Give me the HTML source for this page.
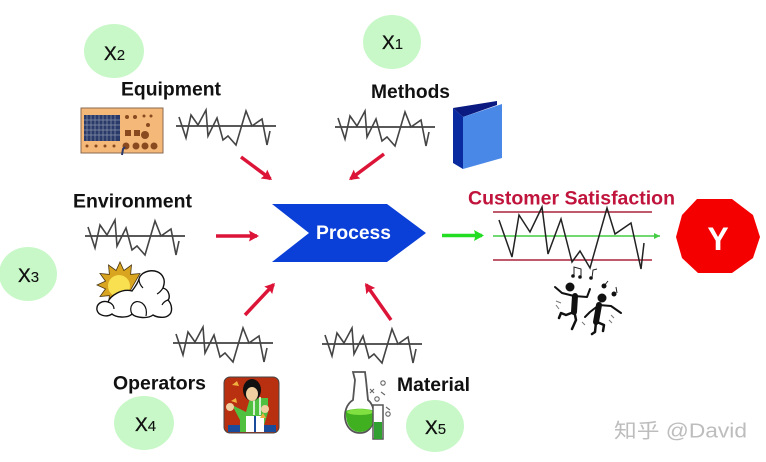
<!DOCTYPE html>
<html><head><meta charset="utf-8"><style>
html,body{margin:0;padding:0;background:#fff}
svg{display:block;filter:blur(.35px)}
text{font-family:"Liberation Sans","Noto Sans CJK SC",sans-serif}
.l{font-weight:bold;font-size:19px;fill:#111}
.x{font-size:19px;fill:#111;stroke:#111;stroke-width:.35}
.x tspan{font-size:15px;stroke-width:.1}
</style></head><body>
<svg width="766" height="462" viewBox="0 0 766 462" xmlns="http://www.w3.org/2000/svg">
<defs>
<g id="s"><path d="M0 0H100" stroke="#222" stroke-width="1.500" fill="none"/><path d="M3-9 10 12 15-11 22-1 30-16 32 10 41-8 47 14 52 10 60 19 70-15 76 0 86-7 91 19 94 5" stroke="#444" stroke-width="1.600" fill="none"/></g>
<marker id="r" markerUnits="userSpaceOnUse" markerWidth="12" markerHeight="12" refX="8" refY="5.500" orient="auto"><path d="M0 0 10 5.500 0 11 1.500 5.500z" fill="#dc1437"/></marker>
<marker id="g" markerUnits="userSpaceOnUse" markerWidth="12" markerHeight="12" refX="8" refY="5.500" orient="auto"><path d="M0 0 10 5.500 0 11 1.500 5.500z" fill="#22dd22"/></marker>
<marker id="g2" markerUnits="userSpaceOnUse" markerWidth="7" markerHeight="6" refX="6" refY="3" orient="auto"><path d="M0 0 6 3 0 6z" fill="#44cc44"/></marker>
</defs>

<!-- green circles -->
<g fill="#c8f8c8">
<ellipse cx="114" cy="51" rx="30" ry="27"/>
<ellipse cx="392" cy="42" rx="29" ry="27"/>
<ellipse cx="28" cy="274" rx="29" ry="27"/>
<ellipse cx="144" cy="423" rx="30" ry="27"/>
<ellipse cx="435" cy="426" rx="29" ry="26"/>
</g>
<text class="x" x="104" y="60">X<tspan>2</tspan></text>
<text class="x" x="382" y="49">X<tspan>1</tspan></text>
<text class="x" x="18" y="282">X<tspan>3</tspan></text>
<text class="x" x="135" y="431">X<tspan>4</tspan></text>
<text class="x" x="425" y="434">X<tspan>5</tspan></text>

<!-- labels -->
<text class="l" x="121" y="95.500" textLength="100" lengthAdjust="spacingAndGlyphs">Equipment</text>
<text class="l" x="371" y="98" textLength="79" lengthAdjust="spacingAndGlyphs">Methods</text>
<text class="l" x="73" y="207.500" textLength="119" lengthAdjust="spacingAndGlyphs">Environment</text>
<text class="l" x="113" y="389.500" textLength="93" lengthAdjust="spacingAndGlyphs">Operators</text>
<text class="l" x="397" y="391" textLength="73" lengthAdjust="spacingAndGlyphs">Material</text>
<text x="468" y="204.500" font-size="19" font-weight="bold" fill="#c0143c" textLength="207" lengthAdjust="spacingAndGlyphs">Customer Satisfaction</text>

<!-- sparklines -->
<use href="#s" x="176" y="126"/>
<use href="#s" x="335" y="127"/>
<use href="#s" x="85" y="236"/>
<use href="#s" x="173" y="343"/>
<use href="#s" x="322" y="344"/>

<!-- red arrows -->
<g stroke="#dc1437" stroke-width="3.500" fill="none">
<path d="M241 157 270.400 178.800" marker-end="url(#r)"/>
<path d="M384 154 350.600 178.800" marker-end="url(#r)"/>
<path d="M216 236H257" marker-end="url(#r)"/>
<path d="M245 315 273.600 284.500" marker-end="url(#r)"/>
<path d="M391 320 366.200 284.600" marker-end="url(#r)"/>
</g>

<!-- process -->
<polygon points="272,204 387,204 426,233 387,262 272,262 309,233" fill="#0a3fd8"/>
<text x="316" y="239" font-size="19" font-weight="bold" fill="#fff" textLength="75" lengthAdjust="spacingAndGlyphs">Process</text>
<path d="M442 235.500H482" stroke="#22dd22" stroke-width="3.500" marker-end="url(#g)"/>

<!-- customer chart -->
<path d="M493 212H652M493 260H652" stroke="#a8243c" stroke-width="1.500"/>
<path d="M493 236H660" stroke="#44cc44" stroke-width="1.500" marker-end="url(#g2)"/>
<path d="M499 220 512 257 519 215 530 232 542 207 548 254 561 219 572 262 580 251 590 268 607 208 615 234 631 223 641 269 644 243" fill="none" stroke="#222" stroke-width="1.500"/>

<!-- Y -->
<polygon points="697,199 732,199 753,215 760,237 753,258 732,273 698,273 682,258 676,237 682,215" fill="#f40000"/>
<text x="718" y="250" font-size="32" font-weight="bold" fill="#fff" text-anchor="middle">Y</text>

<!-- equipment icon -->
<rect x="81" y="108" width="82" height="45" fill="#f4b878" stroke="#8a6a50"/>
<rect x="84" y="115" width="36" height="26" fill="#2a3a6a"/>
<path d="M87 115V141M91 115V141M95 115V141M99 115V141M103 115V141M107 115V141M111 115V141M115 115V141M84 120H120M84 125H120M84 130H120M84 135H120" stroke="#8a94aa" stroke-width=".7"/>
<g fill="#8a4a20">
<circle cx="87" cy="146" r="1.500"/><circle cx="96" cy="146" r="1.500"/><circle cx="105" cy="146" r="1.500"/><circle cx="114" cy="146" r="1.500"/>
<circle cx="126" cy="146" r="3.500"/><circle cx="136" cy="146" r="3.500"/><circle cx="145" cy="146" r="3.500"/><circle cx="154" cy="146" r="3.500"/>
<circle cx="127" cy="117" r="2"/><circle cx="135" cy="117" r="2"/><circle cx="144" cy="116" r="1.500"/><circle cx="151" cy="116" r="1.500"/><circle cx="148" cy="125" r="2"/>
<rect x="125" y="130" width="6" height="6"/><rect x="134" y="130" width="6" height="6"/><circle cx="145" cy="135" r="4"/>
</g>
<path d="M122 155 123 149 125 147" stroke="#2a3a6a" stroke-width="2" fill="none"/>

<!-- binder -->
<polygon points="453,108 497,101 497,105 463,117" fill="#0a1a80"/>
<polygon points="453,108 463,117 463,169 453,163" fill="#0a2aa0"/>
<polygon points="463,117 502,104 502,158 463,169" fill="#4a88e8"/>

<!-- sun and cloud -->
<polygon points="140,273.500 130.600,274.400 131.500,265 123.900,270.500 120,262 116.100,270.500 108.500,265 109.400,274.400 100,273.500 105.500,281.100 97,285 105.500,288.900 100,296.500 109.400,295.600 108.500,305 125,300" fill="#d9a520" stroke="#4a3510" stroke-width=".8"/>
<circle cx="119" cy="286" r="11" fill="#f8e050"/>
<path d="M139 279C141 270 158 267 163 277 166 282 163 287 163 288 170 290 170 298 168 300 172 304 173 312 169 315 165 319 156 317 153 315 148 319 136 318 132 314 127 319 115 317 112 314 106 318 98 315 97 310 96 304 102 300 108 302 110 296 122 288 132 291 135 287 138 283 139 279Z" fill="#fff" stroke="#111" stroke-width="1.400"/>
<path d="M108 302C112 303 114 306 114 309M132 314C128 307 134 298 142 303 146 306 147 311 146 316M139 279C139 283 141 286 143 288M163 288C161 291 159 293 157 294M168 300C165 301 163 303 162 305" fill="none" stroke="#111" stroke-width="1.200"/>

<!-- notes and dancers -->
<g fill="none" stroke="#222" stroke-width="1">
<path d="M574 276V267L581 269V277M592 278 593 270 597 269"/>
<path d="M604 286 608 281M617 293 616 287"/>
</g>
<g fill="#111">
<circle cx="573" cy="276" r="1.800"/><circle cx="580" cy="277" r="1.800"/><circle cx="591" cy="278" r="1.800"/><circle cx="604" cy="286" r="2.500"/><circle cx="614" cy="294" r="2.500"/>
<circle cx="570" cy="287" r="4.500"/><circle cx="602" cy="298" r="4.500"/>
</g>
<g fill="none" stroke="#111" stroke-linecap="round" stroke-linejoin="round">
<path d="M575 296 574 312" stroke-width="6"/>
<path d="M555 287 562 293 574 296 587 297 590 289" stroke-width="2"/>
<path d="M574 312 566 315 561 313 559 318M574 310 576 320 572 329" stroke-width="2.500"/>
<path d="M599 305 596 322" stroke-width="6"/>
<path d="M585 317 590 312 599 305 611 306 621 313" stroke-width="2"/>
<path d="M596 322 595 332 592 334M597 322 604 325 603 331" stroke-width="2.500"/>
</g>
<path d="M556 301 561 303M556 305 559 309M582 322 585 325M611 315 614 318M609 320 612 323" stroke="#777" stroke-width="1" fill="none"/>

<!-- operator icon -->
<rect x="224" y="377" width="55" height="56" rx="6" fill="#b83010" stroke="#444"/>
<path d="M228 425H276V432H228Z" fill="#1a4a9a"/>
<path d="M232 405 246 412 250 398H268V412L262 432H240V420Z" fill="#50c040"/>
<rect x="246" y="416" width="18" height="16" fill="#fff"/>
<path d="M255 416V432" stroke="#1a4a9a" stroke-width="2"/>
<path d="M254 397V415M260 397V415" stroke="#fff" stroke-width="1.500"/>
<ellipse cx="252" cy="390" rx="9" ry="11" fill="#111"/>
<ellipse cx="252" cy="394" rx="6" ry="7" fill="#f0d0a0"/>
<circle cx="230" cy="407" r="4" fill="#f0d0a0"/><circle cx="265" cy="409" r="4" fill="#f0d0a0"/>
<path d="M232 385 237 381 239 386ZM231 401 236 398 237 403ZM260 418 263 413 266 418Z" fill="#f0b040"/>

<!-- flask -->
<path d="M353 372 365 372 366 380 368 400C378 408 376 433 360 433 343 433 340 408 353 400L355 380Z" fill="#fff" stroke="#555" stroke-width="1.800"/>
<path d="M346 411C352 408 368 408 374 411 376 424 369 432 360 432 351 432 345 424 346 411Z" fill="#40b020"/>
<ellipse cx="360" cy="412" rx="13" ry="3" fill="#80e040"/>
<path d="M373 405H383V439H373Z" fill="#fff" stroke="#555" stroke-width="1.500"/>
<rect x="374" y="422" width="8" height="17" fill="#30a030"/>
<g fill="none" stroke="#666" stroke-width="1.100"><circle cx="383" cy="383" r="2.200"/><circle cx="377" cy="399" r="2.200"/><circle cx="388" cy="414" r="2.200"/><path d="M370 389 374 393M374 389 370 393M381 392 385 395M386 407 390 410"/></g>

<!-- watermark -->
<text x="614" y="437.500" font-size="20" fill="#bdbdbd" textLength="133" lengthAdjust="spacingAndGlyphs">知乎 @David</text>
</svg>
</body></html>
